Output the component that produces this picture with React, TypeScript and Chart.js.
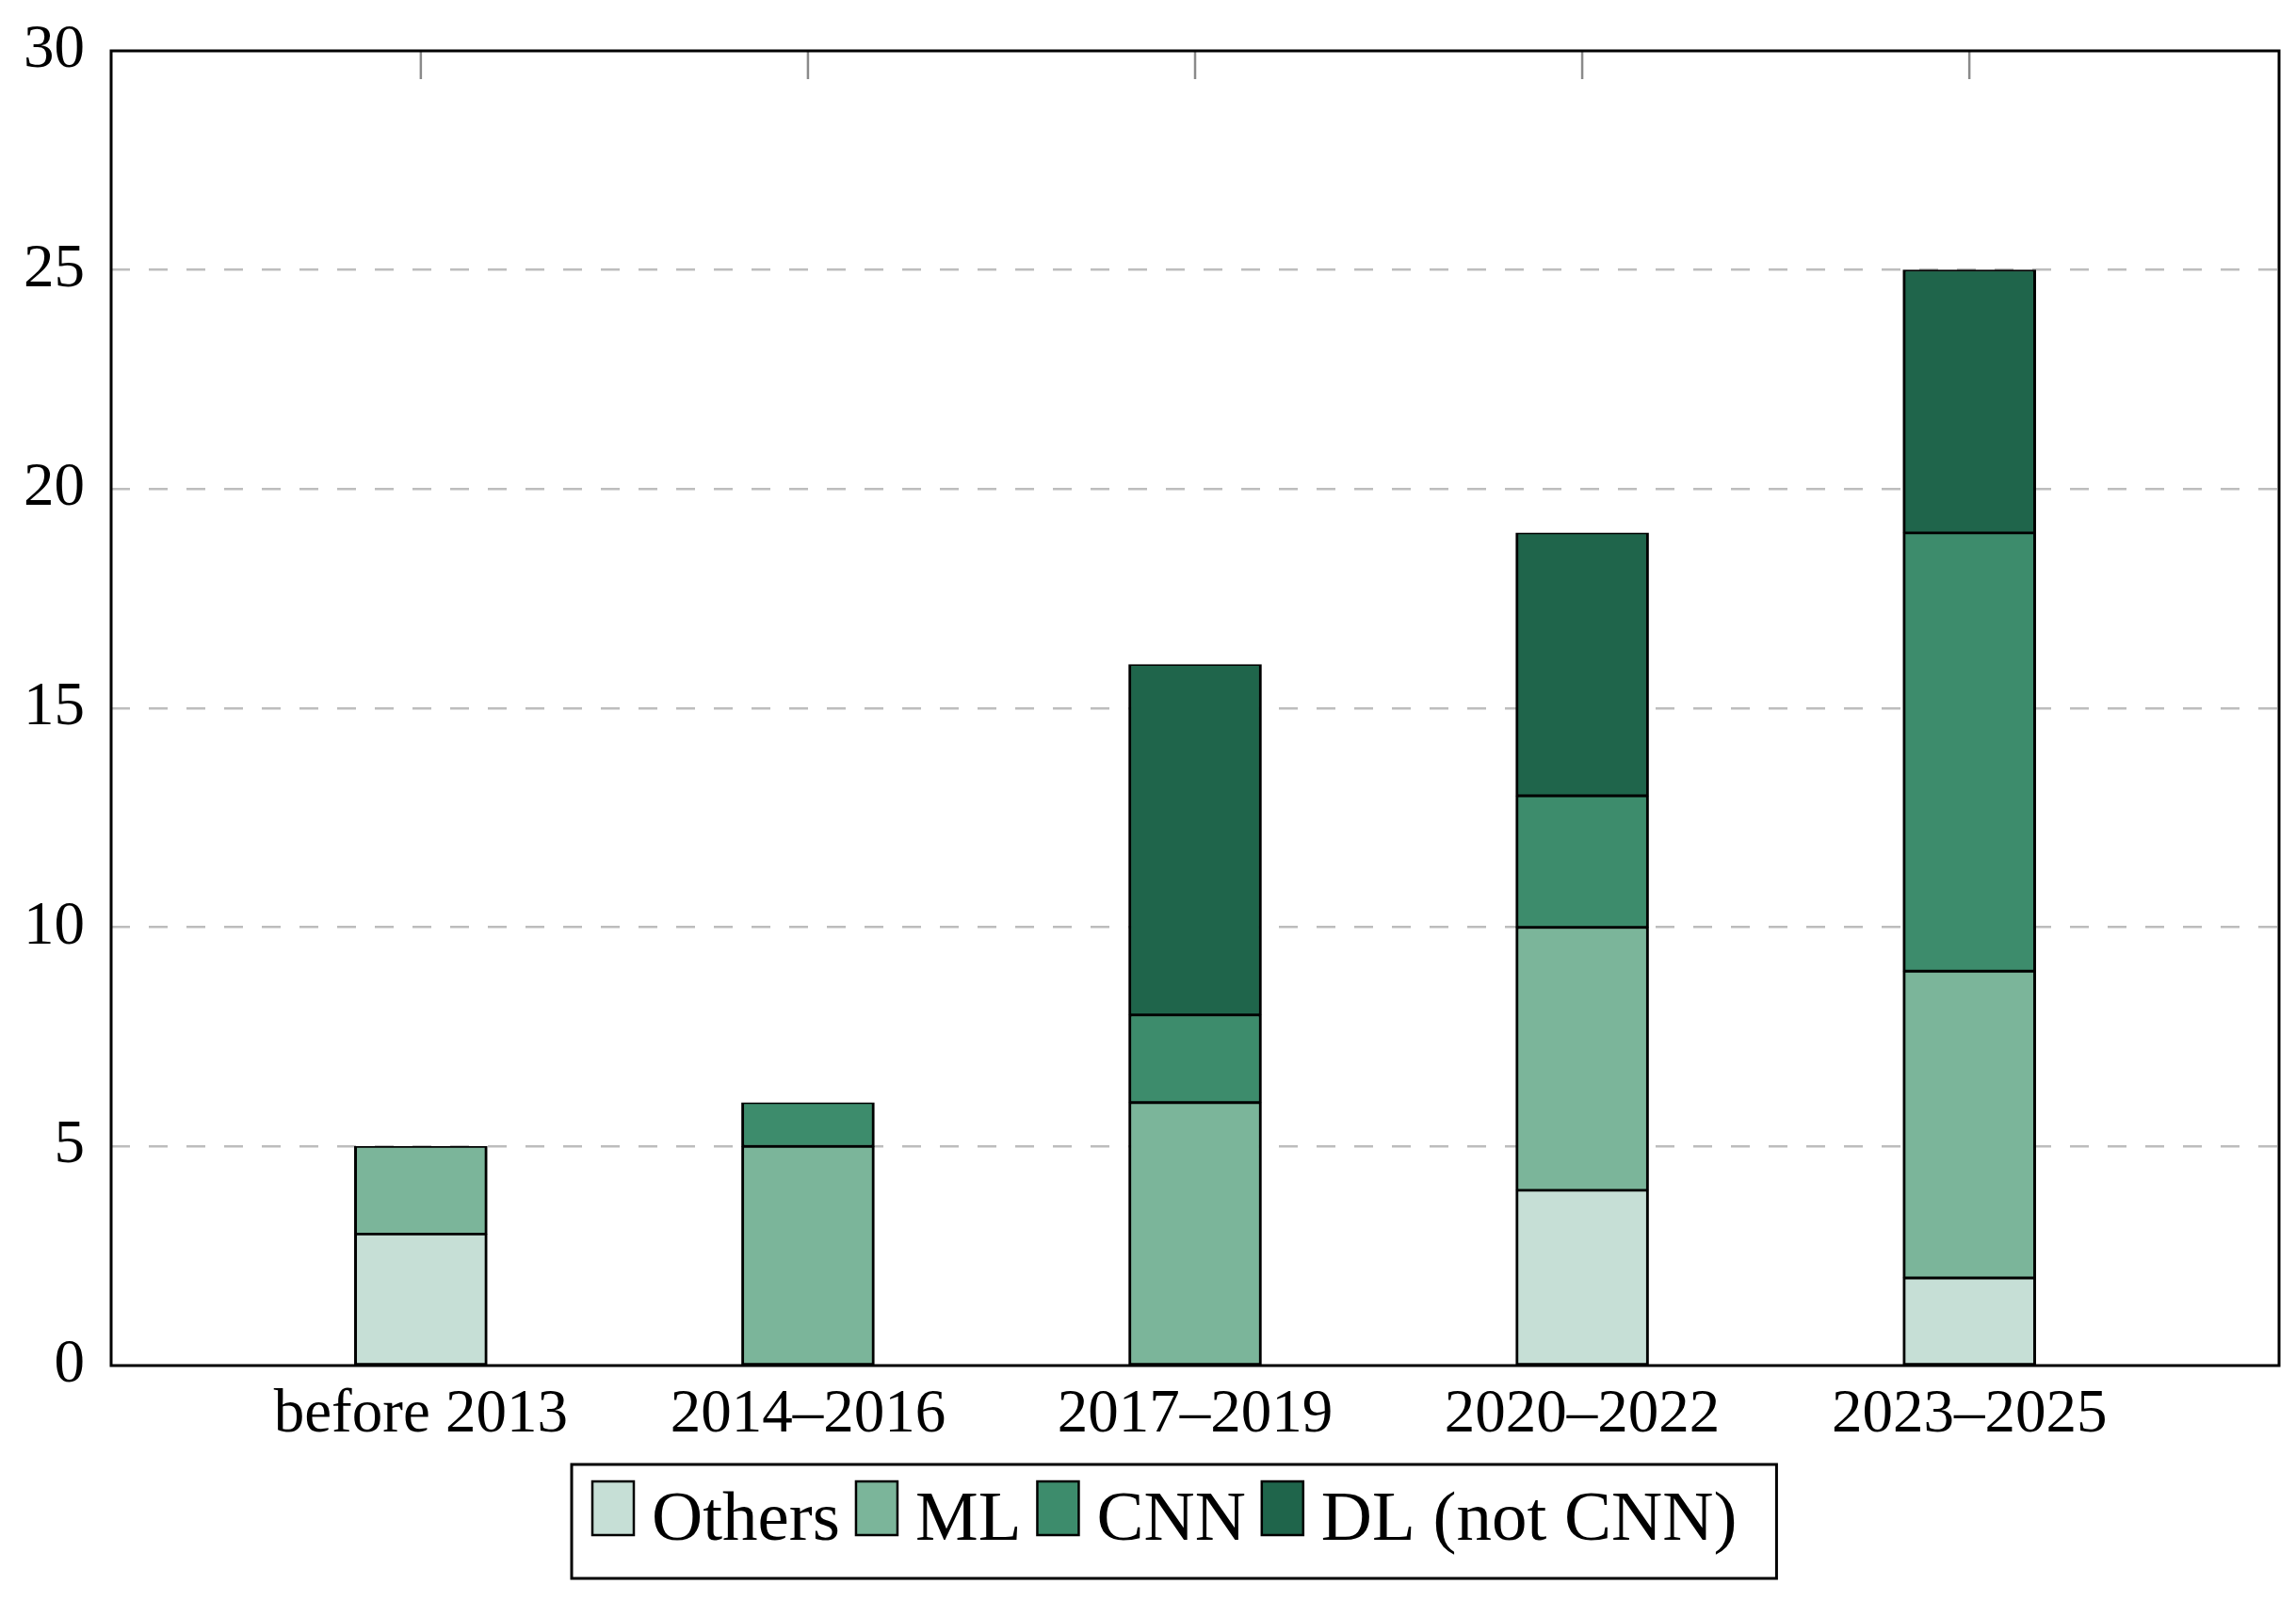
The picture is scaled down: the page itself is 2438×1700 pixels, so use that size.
import React, { useEffect, useRef } from "react";
import { Chart, registerables } from "chart.js";

Chart.register(...registerables);

const categories = ["before 2013", "2014–2016", "2017–2019", "2020–2022", "2023–2025"];
const seriesLabels = ["Others", "ML", "CNN", "DL (not CNN)"];
const others = [3, 0, 0, 4, 2];
const ml = [2, 5, 6, 6, 7];
const cnn = [0, 1, 2, 3, 10];
const dl = [0, 0, 8, 6, 6];
const yTicks = [0, 5, 10, 15, 20, 25, 30];
const seriesColors = ["#c6dfd6", "#7bb59a", "#3d8c6c", "#1f654b"];

const FONT = '"Liberation Serif", "Times New Roman", serif';

const decorPlugin = {
  id: "decor",
  beforeDatasetsDraw(chart: any) {
    const { ctx, chartArea, scales } = chart;
    ctx.save();
    ctx.strokeStyle = "#8a8a8a";
    ctx.lineWidth = 2.5;
    categories.forEach((_, i) => {
      const x = scales.x.getPixelForValue(i);
      ctx.beginPath();
      ctx.moveTo(x, chartArea.top);
      ctx.lineTo(x, chartArea.top + 30);
      ctx.stroke();
    });
    ctx.restore();
  },
  afterDraw(chart: any) {
    const { ctx, chartArea } = chart;
    ctx.save();
    // frame
    ctx.strokeStyle = "#000";
    ctx.lineWidth = 3;
    ctx.strokeRect(chartArea.left, chartArea.top, chartArea.right - chartArea.left, chartArea.bottom - chartArea.top);

    // legend
    ctx.font = `75px ${FONT}`;
    ctx.textBaseline = "alphabetic";
    ctx.textAlign = "left";
    const boxLeft = 607;
    const boxTop = 1555;
    const boxH = 121;
    let x = boxLeft + 22;
    chart.data.datasets.forEach((ds: any, i: number) => {
      ctx.fillStyle = ds.backgroundColor;
      ctx.fillRect(x, 1573, 44, 57);
      ctx.strokeStyle = "#000";
      ctx.lineWidth = 2.5;
      ctx.strokeRect(x, 1573, 44, 57);
      ctx.fillStyle = "#000";
      const tx = x + 44 + 19;
      ctx.fillText(ds.label, tx, 1635);
      const w = ctx.measureText(ds.label).width;
      x = tx + w + (i < chart.data.datasets.length - 1 ? 17 : 0);
    });
    const boxRight = x + 42;
    ctx.strokeStyle = "#000";
    ctx.lineWidth = 3;
    ctx.strokeRect(boxLeft, boxTop, boxRight - boxLeft, boxH);
    ctx.restore();
  },
};

export default function App() {
  const ref = useRef<HTMLCanvasElement | null>(null);
  useEffect(() => {
    if (!ref.current) return;
    const seriesValues = [others, ml, cnn, dl];
    const chart = new Chart(ref.current, {
      type: "bar",
      data: {
        datasets: seriesValues.map((vals, s) => ({
          label: seriesLabels[s],
          data: vals.map((v, i) => ({ x: i, y: v === 0 ? null : v })),
          backgroundColor: seriesColors[s],
          borderColor: "#000",
          borderWidth: { left: 3, right: 3, top: 1.8, bottom: 1.8 },
          borderSkipped: false,
          barThickness: 141,
        })) as any,
      },
      options: {
        responsive: false,
        animation: false,
        devicePixelRatio: 1,
        layout: { padding: { top: 54, right: 18, left: 0, bottom: 0 } },
        plugins: { legend: { display: false }, tooltip: { enabled: false } },
        scales: {
          x: {
            type: "linear",
            stacked: true,
            min: -0.8,
            max: 4.8,
            offset: false,
            grid: { display: false, drawTicks: false },
            border: { display: false },
            afterBuildTicks: (s: any) => {
              s.ticks = categories.map((_, i) => ({ value: i }));
            },
            afterFit: (s: any) => {
              s.height = 250;
              s.paddingLeft = 0;
              s.paddingRight = 0;
            },
            ticks: {
              autoSkip: false,
              maxRotation: 0,
              padding: 14,
              color: "#000",
              font: { family: FONT, size: 65 },
              callback: (v: any) => categories[v] ?? "",
            },
          },
          y: {
            stacked: true,
            min: 0,
            max: 30,
            afterBuildTicks: (s: any) => {
              s.ticks = yTicks.map((v) => ({ value: v }));
            },
            afterFit: (s: any) => {
              s.width = 118;
              s.paddingTop = 0;
              s.paddingBottom = 0;
            },
            grid: {
              drawTicks: false,
              lineWidth: 2.5,
              color: (c: any) =>
                c.tick && (c.tick.value === 0 || c.tick.value === 30) ? "rgba(0,0,0,0)" : "#bdbdbd",
            },
            border: { display: false, dash: [20, 20] },
            ticks: {
              padding: 28,
              color: "#000",
              font: { family: FONT, size: 65 },
            },
          },
        },
      } as any,
      plugins: [decorPlugin],
    });
    return () => chart.destroy();
  }, []);
  return (
    <div style={{ position: "fixed", left: 0, top: 0, width: 2438, height: 1700, background: "#fff" }}>
      <canvas ref={ref} width={2438} height={1700} style={{ width: 2438, height: 1700 }} />
    </div>
  );
}
